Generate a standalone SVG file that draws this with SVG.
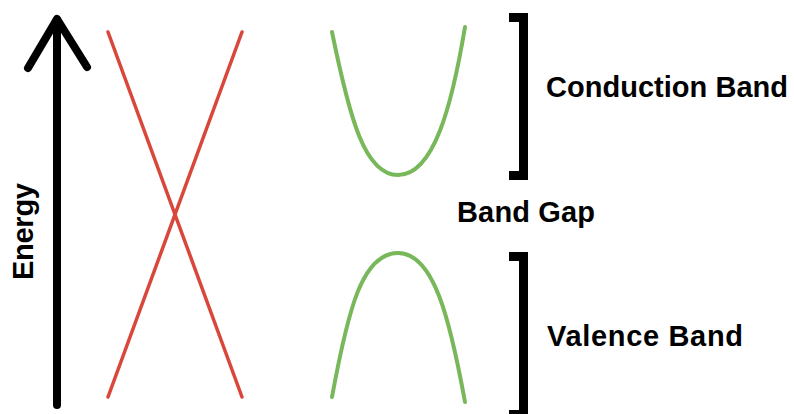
<svg xmlns="http://www.w3.org/2000/svg" width="794" height="414" viewBox="0 0 794 414">
<style>
.lbl{font-family:"Liberation Sans",Arial,sans-serif;font-weight:bold;font-size:29px;fill:#000}
.blk{fill:none;stroke:#000;stroke-linecap:round;stroke-linejoin:round}
.brk{fill:none;stroke:#000;stroke-width:9;stroke-linecap:butt;stroke-linejoin:miter}
.red{fill:none;stroke:#d9473a;stroke-width:3.5;stroke-linecap:round}
.grn{fill:none;stroke:#78b85a;stroke-width:4;stroke-linecap:round}
</style>
<rect width="794" height="414" fill="#fff"/>
<g id="energy-axis">
<path class="blk" stroke-width="8" d="M57,405 V20"/>
<path class="blk" stroke-width="8" d="M28,68 L57,19 L87,67"/>
<text class="lbl" transform="translate(33,280) rotate(-90)" textLength="97">Energy</text>
</g>
<g id="metal-bands">
<line class="red" x1="108" y1="32" x2="242" y2="397"/>
<line class="red" x1="242" y1="32" x2="108" y2="397"/>
</g>
<g id="conduction-curve">
<path class="grn" d="M332,32 C350,120 365,175 398,175 C434,175 452,105 465,27"/>
</g>
<g id="valence-curve">
<path class="grn" d="M332,397 C348,310 362,253 398,253 C434,253 450,320 465,402"/>
</g>
<g id="conduction-band">
<path class="brk" d="M509,17.5 H523.5 V175.5 H509"/>
<text class="lbl" x="546" y="97" textLength="242">Conduction Band</text>
</g>
<g id="band-gap">
<text class="lbl" x="457" y="222" textLength="138">Band Gap</text>
</g>
<g id="valence-band">
<path class="brk" d="M509,256.5 H523.5 V414.5 H509"/>
<text class="lbl" x="547" y="346" textLength="196">Valence Band</text>
</g>
</svg>
